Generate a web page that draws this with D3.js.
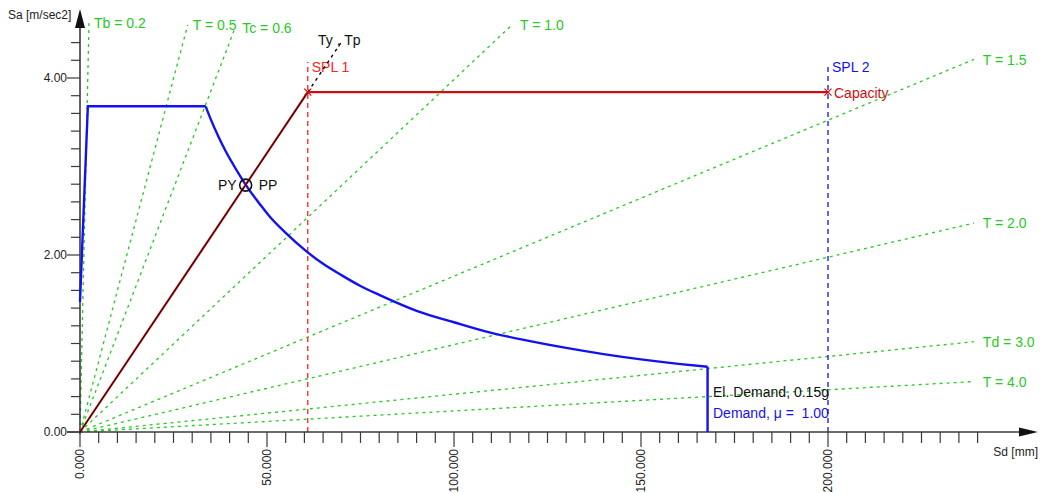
<!DOCTYPE html>
<html><head><meta charset="utf-8">
<script src="https://cdn.jsdelivr.net/npm/d3@7"></script>
<style>
body{margin:0;background:#fff;}
svg{display:block;font-family:"Liberation Sans",Arial,sans-serif;}
text{white-space:pre;}
</style></head>
<body><svg id="c" width="1043" height="493"></svg>
<script>
// ---- data ----
const xTickLabels = ["0.000","50.000","100.000","150.000","200.000"];
const xTickValues = [0,50,100,150,200];
const yTickLabels = ["0.00","2.00","4.00"];
const yTickValues = [0,2,4];

// capacity curve (Sd mm, Sa m/s2)
const capSd = [0, 60.9, 200];
const capSa = [0, 3.84, 3.84];

// demand spectrum (ADRS): rising branch + plateau
const demRiseSd = [0, 2.1, 33.6];
const demRiseSa = [1.47, 3.68, 3.68];
// descending branch
const demDescSd = [33.6, 35, 37, 39, 41, 43, 45, 48, 51, 55, 60, 65, 70, 75, 80, 90, 100, 110, 120, 130, 140, 150, 160, 167.8];
const demDescSa = [3.68, 3.53, 3.34, 3.17, 3.02, 2.88, 2.75, 2.58, 2.42, 2.25, 2.06, 1.90, 1.77, 1.65, 1.55, 1.37, 1.24, 1.12, 1.03, 0.95, 0.88, 0.82, 0.77, 0.737];
// vertical drop at end
const demDropSd = [167.8, 167.8];
const demDropSa = [0.737, 0];

// constant-period radial lines: end points (Sd, Sa) and labels
const periodLabels = ["Tb = 0.2","T = 0.5","Tc = 0.6","T = 1.0","T = 1.5","T = 2.0","Td = 3.0","T = 4.0"];
const periodEndSd  = [2.4, 28.8, 41.5, 115.5, 239, 239, 239, 239];
const periodEndSa  = [4.62, 4.60, 4.57, 4.60, 4.21, 2.36, 1.02, 0.57];
const periodLabelDx = [5, 5, 7, 8, 9, 9, 9, 9];

// Ty/Tp extension
const tyEnd = [69.8, 4.40];
// performance point
const ppPoint = [44.3, 2.79];
// SPL lines
const splSd = [60.9, 200];
const splTopSa = [4.18, 4.17];
const splLabels = ["SPL 1","SPL 2"];

// ---- drawing ----
const svg = d3.select("#c");
const x = d3.scaleLinear().domain([0,200]).range([80,828]);
const y = d3.scaleLinear().domain([0,4]).range([432,78]);

const green = "#26c926", blue = "#1212f0", capRed = "#cc1010", splRed = "#ff2020";

// green period lines
periodLabels.forEach((lab,i)=>{
  svg.append("line").attr("x1",x(0)).attr("y1",y(0))
    .attr("x2",x(periodEndSd[i])).attr("y2",y(periodEndSa[i]))
    .attr("stroke",green).attr("stroke-width",1.3).attr("stroke-dasharray","3,4");
  svg.append("text").attr("x",x(periodEndSd[i])+periodLabelDx[i]).attr("y",y(periodEndSa[i]))
    .attr("dy","0.38em").attr("fill",green).attr("font-size",14).text(lab);
});

// SPL lines
const splColors = [splRed, blue];
splSd.forEach((s,i)=>{
  svg.append("line").attr("x1",x(s)).attr("x2",x(s)).attr("y1",y(0)).attr("y2",y(splTopSa[i]))
    .attr("stroke",splColors[i]).attr("stroke-width",1.3).attr("stroke-dasharray","5,4");
  svg.append("text").attr("x",x(s)+4).attr("y",72).attr("fill",splColors[i]).attr("font-size",14).text(splLabels[i]);
});

// axes
const axisCol = "#3a3a3a";
const ax = svg.append("g");
ax.append("line").attr("x1",67).attr("x2",1022).attr("y1",y(0)).attr("y2",y(0)).attr("stroke",axisCol).attr("stroke-width",1.6);
ax.append("path").attr("d",`M1038,${y(0)} L1019,${y(0)-4.5} L1019,${y(0)+4.5} Z`).attr("fill","#111");
ax.append("line").attr("x1",x(0)).attr("x2",x(0)).attr("y1",y(0)+2).attr("y2",24).attr("stroke",axisCol).attr("stroke-width",1.6);
ax.append("path").attr("d",`M${x(0)},9 L${x(0)-5},28 L${x(0)+5},28 Z`).attr("fill","#111");

// x ticks
const xMinor = d3.range(0,241,5);
ax.selectAll(".xt").data(xMinor).enter().append("line")
  .attr("x1",d=>x(d)).attr("x2",d=>x(d)).attr("y1",y(0)).attr("y2",d=>xTickValues.includes(d)?447:443)
  .attr("stroke",axisCol).attr("stroke-width",1.2);
xTickValues.forEach((v,i)=>{
  svg.append("text").attr("transform",`translate(${x(v)},449) rotate(-90)`)
    .attr("text-anchor","end").attr("dy","0.36em").attr("font-size",12).attr("fill","#222")
    .text(xTickLabels[i]);
});
// y ticks
const yMinor = d3.range(0,4.41,0.2);
ax.selectAll(".yt").data(yMinor).enter().append("line")
  .attr("x1",d=>yTickValues.some(v=>Math.abs(v-d)<1e-6)?67:71).attr("x2",x(0))
  .attr("y1",d=>y(d)).attr("y2",d=>y(d)).attr("stroke",axisCol).attr("stroke-width",1.2);
yTickValues.forEach((v,i)=>{
  svg.append("text").attr("x",67).attr("y",y(v)).attr("dy","0.35em").attr("text-anchor","end")
    .attr("font-size",12).attr("fill","#222").text(yTickLabels[i]);
});
svg.append("text").attr("x",8).attr("y",19).attr("font-size",12).attr("fill","#222").text("Sa [m/sec2]");
svg.append("text").attr("x",1038).attr("y",456).attr("text-anchor","end").attr("font-size",12).attr("fill","#222").text("Sd [mm]");

// demand curve
const line = d3.line().x(d=>x(d[0])).y(d=>y(d[1]));
const smooth = d3.line().x(d=>x(d[0])).y(d=>y(d[1])).curve(d3.curveMonotoneX);
const demStyle = p=>p.attr("fill","none").attr("stroke",blue).attr("stroke-width",2.4).attr("stroke-linejoin","miter");
svg.append("path").attr("d",line(demRiseSd.map((s,i)=>[s,demRiseSa[i]]))).call(demStyle);
svg.append("path").attr("d",smooth(demDescSd.map((s,i)=>[s,demDescSa[i]]))).call(demStyle);
svg.append("path").attr("d",line(demDropSd.map((s,i)=>[s,demDropSa[i]]))).call(demStyle);

// capacity curve
svg.append("path").attr("d",line(capSd.map((s,i)=>[s,capSa[i]])))
  .attr("fill","none").attr("stroke",capRed).attr("stroke-width",2.2);
// Ty line (solid over elastic branch, dashed extension)
svg.append("line").attr("x1",x(0)).attr("y1",y(0)).attr("x2",x(capSd[1])).attr("y2",y(capSa[1]))
  .attr("stroke","#000").attr("stroke-width",0.9);
svg.append("line").attr("x1",x(capSd[1])).attr("y1",y(capSa[1])).attr("x2",x(tyEnd[0])).attr("y2",y(tyEnd[1]))
  .attr("stroke","#000").attr("stroke-width",1.4).attr("stroke-dasharray","3,4");
svg.append("text").attr("x",318).attr("y",45).attr("font-size",14).attr("fill","#111").text("Ty , Tp");

// cross markers
[[capSd[1],capSa[1]],[capSd[2],capSa[2]]].forEach(p=>{
  const cx=x(p[0]), cy=y(p[1]), r=3.5;
  svg.append("path").attr("d",`M${cx-r},${cy-r}L${cx+r},${cy+r}M${cx-r},${cy+r}L${cx+r},${cy-r}`)
    .attr("stroke",capRed).attr("stroke-width",1.2);
});
svg.append("text").attr("x",x(200)+6).attr("y",98).attr("font-size",14).attr("fill",capRed).text("Capacity");

// performance point
svg.append("circle").attr("cx",x(ppPoint[0])).attr("cy",y(ppPoint[1])).attr("r",6)
  .attr("fill","none").attr("stroke","#111").attr("stroke-width",1.6);
svg.append("text").attr("x",x(ppPoint[0])-9).attr("y",y(ppPoint[1])).attr("dy","0.36em").attr("text-anchor","end").attr("font-size",14).attr("fill","#111").text("PY");
svg.append("text").attr("x",x(ppPoint[0])+13).attr("y",y(ppPoint[1])).attr("dy","0.36em").attr("font-size",14).attr("fill","#111").text("PP");

// demand labels
svg.append("text").attr("x",713).attr("y",397).attr("font-size",14).attr("fill","#111").text("El. Demand, 0.15g");
svg.append("text").attr("x",713).attr("y",418).attr("font-size",14).attr("fill",blue).text("Demand, \u03bc =  1.00");
</script></body></html>
